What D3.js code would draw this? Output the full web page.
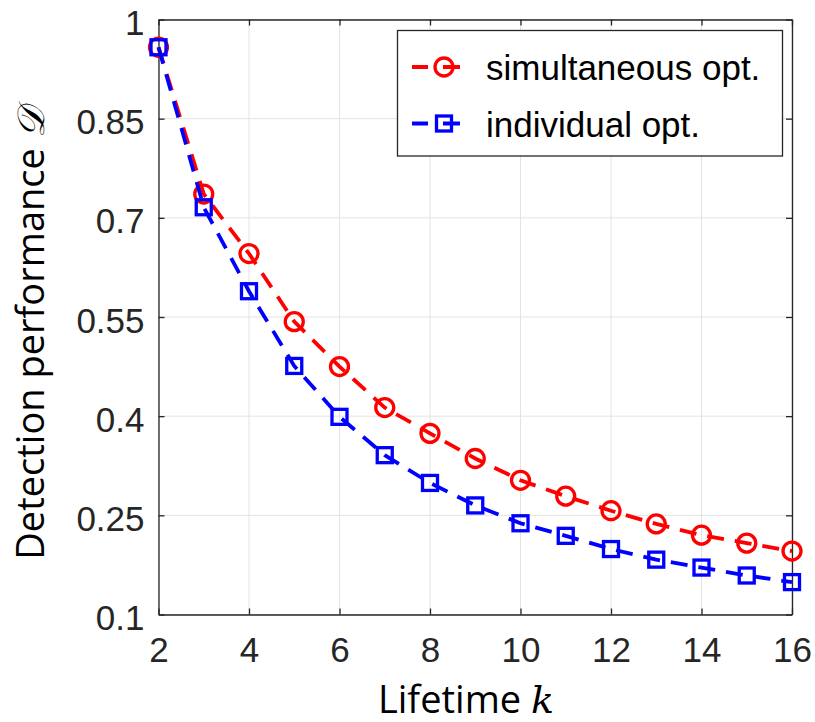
<!DOCTYPE html>
<html>
<head>
<meta charset="utf-8">
<script src="https://cdn.jsdelivr.net/npm/d3@7"></script>
<style>
  body { margin: 0; background: #fff; }
  svg { display: block; }
</style>
</head>
<body>
<svg id="drawing_region"></svg>
<script>
// lifetime k on the x axis
const lifetimes = [2, 3, 4, 5, 6, 7, 8, 9, 10, 11, 12, 13, 14, 15, 16];
const simultaneous = [0.958, 0.736, 0.646, 0.543, 0.475, 0.413, 0.374, 0.336, 0.303, 0.279, 0.257, 0.237, 0.220, 0.208, 0.196];
const individual = [0.958, 0.716, 0.589, 0.476, 0.399, 0.341, 0.299, 0.265, 0.238, 0.219, 0.199, 0.183, 0.171, 0.159, 0.149];
const x_ticks = [2, 4, 6, 8, 10, 12, 14, 16];
const y_ticks = [0.1, 0.25, 0.4, 0.55, 0.7, 0.85, 1];
const y_tick_labels = ['0.1', '0.25', '0.4', '0.55', '0.7', '0.85', '1'];
const series_names = ['simultaneous opt.', 'individual opt.'];

const config = {
  width: 815,
  height: 722,
  margin: {top: 19.5, right: 23, bottom: 107.5, left: 158.5}
};

const svg = d3.select('#drawing_region')
  .attr('width', config.width)
  .attr('height', config.height);

const chart_width = config.width - config.margin.left - config.margin.right;
const chart_height = config.height - config.margin.top - config.margin.bottom;

const chart = svg.append('g')
  .attr('transform', `translate(${config.margin.left}, ${config.margin.top})`);

const x_scale = d3.scaleLinear().domain([2, 16]).range([0, chart_width]);
const y_scale = d3.scaleLinear().domain([0.1, 1]).range([chart_height, 0]);

const axis_color = '#262626';
const tick_font = '"Liberation Sans", Arial, sans-serif';
const label_font = '"Open Sans", "Noto Sans", sans-serif';

// grid
chart.append('g').selectAll('line.gx')
  .data(x_ticks).join('line')
  .attr('x1', d => x_scale(d)).attr('x2', d => x_scale(d))
  .attr('y1', 0).attr('y2', chart_height)
  .attr('stroke', '#e3e3e3').attr('stroke-width', 1);
chart.append('g').selectAll('line.gy')
  .data(y_ticks).join('line')
  .attr('x1', 0).attr('x2', chart_width)
  .attr('y1', d => y_scale(d)).attr('y2', d => y_scale(d))
  .attr('stroke', '#e3e3e3').attr('stroke-width', 1);

// axes (ticks pointing inward)
const style_axis = g => {
  g.select('.domain').attr('stroke', axis_color).attr('stroke-width', 1.3);
  g.selectAll('.tick line').attr('stroke', axis_color).attr('stroke-width', 1.3);
  g.selectAll('.tick text')
    .attr('fill', axis_color)
    .style('font-family', tick_font)
    .style('font-size', '35px');
};

chart.append('g')
  .attr('transform', `translate(0, ${chart_height})`)
  .call(d3.axisBottom(x_scale).tickValues(x_ticks).tickSize(-6).tickSizeOuter(0).tickPadding(23))
  .call(style_axis)
  .call(g => g.selectAll('.tick text').attr('dy', '0.71em'));

chart.append('g')
  .call(d3.axisLeft(y_scale).tickValues(y_ticks).tickFormat((d, i) => y_tick_labels[i])
    .tickSize(-6).tickSizeOuter(0).tickPadding(14))
  .call(style_axis)
  .call(g => g.selectAll('.tick text').attr('dy', '0.43em'));

chart.append('g')
  .call(d3.axisTop(x_scale).tickValues(x_ticks).tickSize(-6).tickSizeOuter(0).tickFormat(''))
  .call(style_axis);

chart.append('g')
  .attr('transform', `translate(${chart_width}, 0)`)
  .call(d3.axisRight(y_scale).tickValues(y_ticks).tickSize(-6).tickSizeOuter(0).tickFormat(''))
  .call(style_axis);

// series
const series = [
  {name: series_names[0], values: simultaneous, color: '#ff0000', marker: 'circle'},
  {name: series_names[1], values: individual, color: '#0000ff', marker: 'square'}
];

const line = d3.line()
  .x((d, i) => x_scale(lifetimes[i]))
  .y(d => y_scale(d));

const draw_marker = (sel, s) => {
  if (s.marker === 'circle') {
    sel.append('circle').attr('r', 9);
  } else {
    sel.append('rect').attr('x', -7.5).attr('y', -7.5).attr('width', 15).attr('height', 15);
  }
  sel.selectAll('circle, rect')
    .attr('fill', 'none')
    .attr('stroke', s.color)
    .attr('stroke-width', 3.3);
};

series.forEach(s => {
  const g = chart.append('g');
  g.append('path')
    .datum(s.values)
    .attr('d', line)
    .attr('fill', 'none')
    .attr('stroke', s.color)
    .attr('stroke-width', 3.8)
    .attr('stroke-dasharray', '17,11');
  g.selectAll('g.pt')
    .data(s.values).join('g')
    .attr('transform', (d, i) => `translate(${x_scale(lifetimes[i])}, ${y_scale(d)})`)
    .each(function() { draw_marker(d3.select(this), s); });
});

// legend
const legend = svg.append('g');
legend.append('rect')
  .attr('x', 397.5).attr('y', 30.5)
  .attr('width', 385).attr('height', 125.5)
  .attr('fill', '#fff')
  .attr('stroke', axis_color).attr('stroke-width', 1.3);

series.forEach((s, i) => {
  const cy = 67 + i * 56.5;
  const row = legend.append('g');
  row.append('line')
    .attr('x1', 412).attr('x2', 479)
    .attr('y1', cy).attr('y2', cy)
    .attr('stroke', s.color).attr('stroke-width', 3.8)
    .attr('stroke-dasharray', '16,15,17,33,2');
  const m = row.append('g').attr('transform', `translate(444, ${cy})`);
  draw_marker(m, s);
  row.append('text')
    .attr('x', 486).attr('y', cy + 13)
    .style('font-family', tick_font)
    .style('font-size', '35px')
    .attr('fill', '#000')
    .text(s.name);
});

// axis labels
svg.append('text')
  .attr('x', 466).attr('y', 713)
  .attr('text-anchor', 'middle')
  .attr('fill', '#000')
  .style('font-family', label_font)
  .style('font-size', '38px')
  .text('Lifetime ')
  .append('tspan')
  .style('font-family', '"DejaVu Serif", serif')
  .style('font-style', 'italic')
  .text('k');

svg.append('text')
  .attr('transform', 'translate(44, 334) rotate(-90)')
  .attr('text-anchor', 'middle')
  .attr('fill', '#000')
  .style('font-family', label_font)
  .style('font-size', '38px')
  .text('Detection performance ')
  .append('tspan')
  .style('font-family', '"DejaVu Serif", serif')
  .style('font-style', 'italic')
  .text('\u{1D49F}');
</script>
</body>
</html>
